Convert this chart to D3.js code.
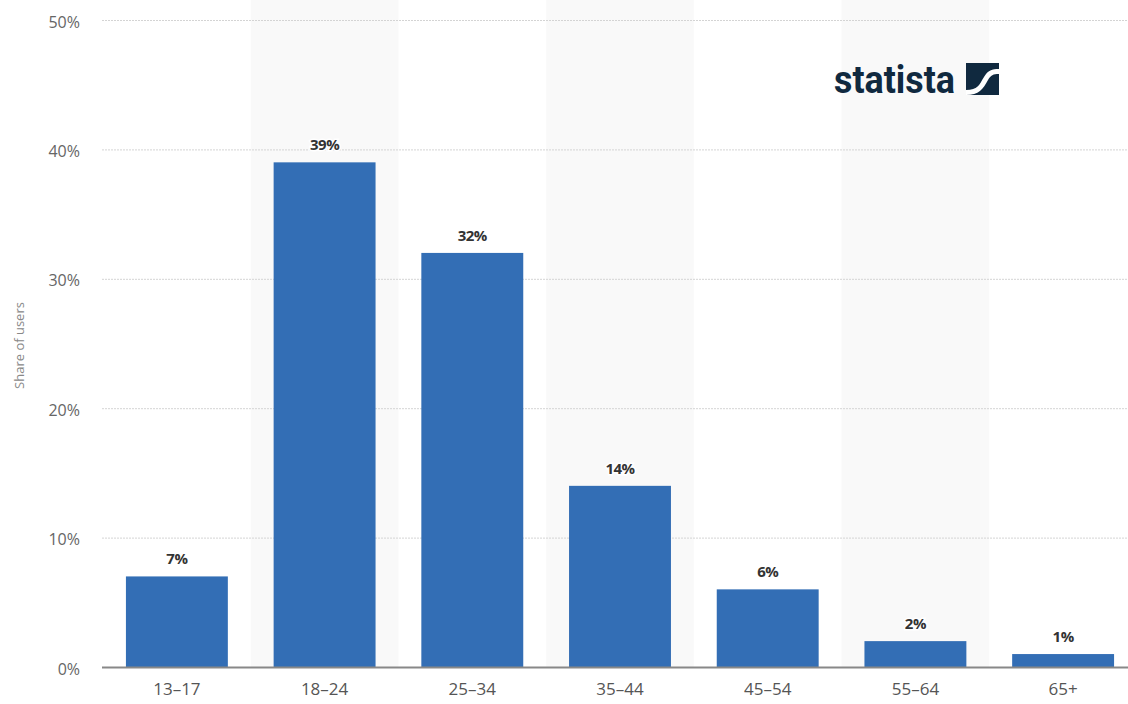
<!DOCTYPE html>
<html>
<head>
<meta charset="utf-8">
<script src="https://cdn.jsdelivr.net/npm/d3@7"></script>
<style>
  body { margin: 0; background: #fff; }
  svg { display: block; font-family: "Open Sans", "DejaVu Sans", sans-serif; }
</style>
</head>
<body>
<div id="chart"></div>
<script>
// chart data
const ageGroups = ["13-17", "18-24", "25-34", "35-44", "45-54", "55-64", "65+"];
const shares = [7, 39, 32, 14, 6, 2, 1];
const yTicks = [0, 10, 20, 30, 40, 50];

const width = 1128;
const height = 704;
const margin = {left: 102, right: -10, top: 20, bottom: 37};

const svg = d3.select("#chart")
  .append("svg")
  .attr("width", width)
  .attr("height", height);

const x = d3.scaleBand()
  .domain(ageGroups)
  .range([margin.left, width - margin.right])
  .paddingInner(0.31)
  .paddingOuter(0.162);

const y = d3.scaleLinear()
  .domain([0, 50])
  .range([height - margin.bottom, margin.top]);

const step = x.step();

// alternate shaded columns
svg.append("g")
  .selectAll("rect")
  .data(ageGroups.filter((d, i) => i % 2 === 1))
  .join("rect")
    .attr("x", d => x(d) - (step - x.bandwidth()) / 2)
    .attr("y", 0)
    .attr("width", step)
    .attr("height", y(0))
    .attr("fill", "#f9f9f9");

// gridlines
svg.append("g")
  .selectAll("line")
  .data(yTicks.filter(d => d > 0))
  .join("line")
    .attr("x1", margin.left)
    .attr("x2", width)
    .attr("y1", d => y(d) + 0.5)
    .attr("y2", d => y(d) + 0.5)
    .attr("stroke", "#d4d4d4")
    .attr("stroke-width", 1)
    .attr("stroke-dasharray", "2,1");

// y axis
const yAxis = svg.append("g")
  .attr("transform", `translate(${margin.left}, 2)`)
  .call(d3.axisLeft(y).tickValues(yTicks).tickFormat(d => d + "%").tickSize(0).tickPadding(22));
yAxis.select(".domain").remove();
yAxis.selectAll("text")
  .attr("font-size", "16px")
  .attr("fill", "#666")
  .attr("font-family", "Open Sans, sans-serif");

svg.append("text")
  .attr("transform", `translate(24, ${y(25) + 2}) rotate(-90)`)
  .attr("text-anchor", "middle")
  .attr("font-size", "13px")
  .attr("fill", "#888")
  .text("Share of users");

// bars
svg.append("g")
  .selectAll("rect")
  .data(shares)
  .join("rect")
    .attr("x", (d, i) => x(ageGroups[i]))
    .attr("y", d => y(d))
    .attr("width", x.bandwidth())
    .attr("height", d => y(0) - y(d))
    .attr("fill", "#336eb5");

// value labels
svg.append("g")
  .selectAll("text")
  .data(shares)
  .join("text")
    .attr("x", (d, i) => x(ageGroups[i]) + x.bandwidth() / 2)
    .attr("y", d => y(d) - 12)
    .attr("text-anchor", "middle")
    .attr("font-size", "15px")
    .attr("font-weight", "bold")
    .attr("letter-spacing", "-0.5px")
    .attr("fill", "#333")
    .attr("stroke", "#fff")
    .attr("stroke-width", 3)
    .attr("paint-order", "stroke")
    .text(d => d + "%");

// x axis
const xAxis = svg.append("g")
  .attr("transform", `translate(0, ${y(0)})`)
  .call(d3.axisBottom(x).tickSize(0).tickPadding(16).tickFormat(d => d.replace("-", "\u2013")));
xAxis.select(".domain").remove();
xAxis.selectAll("text")
  .attr("font-size", "17px")
  .attr("fill", "#555")
  .attr("font-family", "Open Sans, sans-serif");

svg.append("line")
  .attr("x1", margin.left)
  .attr("x2", width)
  .attr("y1", y(0) + 0.5)
  .attr("y2", y(0) + 0.5)
  .attr("stroke", "#888")
  .attr("stroke-width", 2);

// statista logo
const logo = svg.append("g").attr("transform", "translate(834, 63)");
logo.append("text")
  .attr("x", 0)
  .attr("y", 30)
  .attr("font-size", "38px")
  .attr("font-weight", "bold")
  .attr("font-family", "Roboto, sans-serif")
  .attr("textLength", 121)
  .attr("lengthAdjust", "spacingAndGlyphs")
  .attr("fill", "#10293f")
  .text("statista");
logo.append("rect")
  .attr("x", 132)
  .attr("y", 0)
  .attr("width", 33)
  .attr("height", 32)
  .attr("fill", "#10293f");
logo.append("path")
  .attr("d", "M132,27 C144,27 145,22 150,14 C154,7 158,6 165,6 L165,11 C159,11 157,12 154,17 C149,26 145,32 132,32 Z")
  .attr("fill", "#fff");
</script>
</body>
</html>
